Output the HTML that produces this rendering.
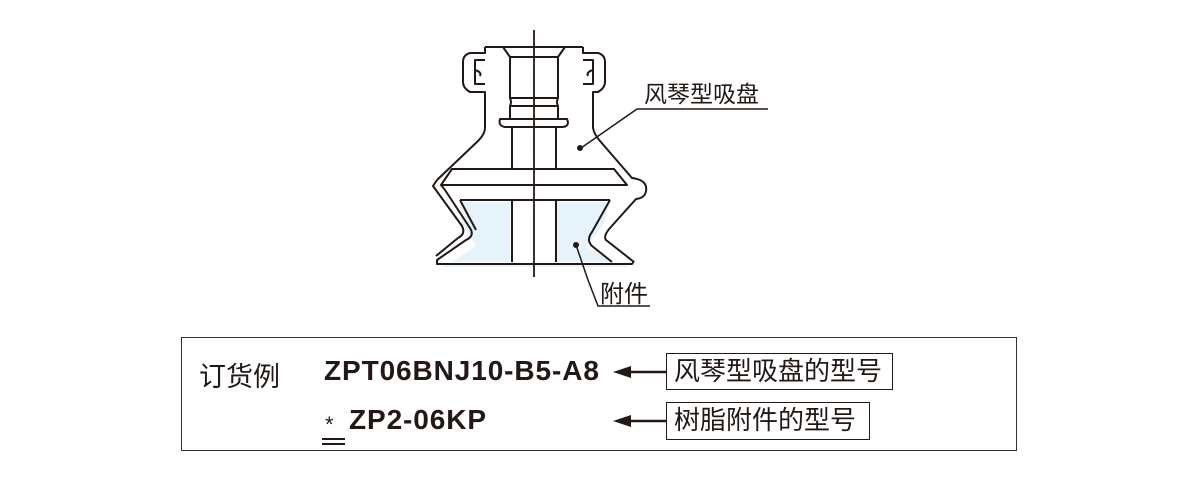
<!DOCTYPE html>
<html><head><meta charset="utf-8"><style>
html,body{margin:0;padding:0;background:#fff;width:1200px;height:500px;overflow:hidden}
.cjk{font-family:"Liberation Sans","Noto Sans CJK SC",sans-serif}
</style></head><body>
<svg width="1200" height="500" viewBox="0 0 1200 500" xmlns="http://www.w3.org/2000/svg" style="position:absolute;left:0;top:0">
<g fill="none" stroke="#231815" stroke-width="2" stroke-linejoin="round">
<path d="M460 202 L510 202 L510 262 L452 262 L476 246 L462 224 Z" fill="#e6f3fb" stroke="none"/>
<path d="M557 202 L610 202 L604 224 L586 246 L612 262 L557 262 Z" fill="#e6f3fb" stroke="none"/>
<path d="M437 263 L632 263 L626 267 L445 267 Z" fill="#e6f3fb" stroke="none"/>
<path d="M485 47 L583 47"/>
<path d="M503 47 L510 57 L558 57 L565 47"/>
<path d="M510 57 L510 98 M558 57 L558 98"/>
<path d="M485 47 L485 53 L470 53 Q463 55 463 62 L463 82 Q463 88 470 92 L485 92 L485 128 Q485 134 478 141 L437 180"/>
<path d="M485 60 L475 60 L475 84 L485 84 M475 70 Q482 72 480 76"/>
<path d="M583 47 L583 53 L598 53 Q605 55 605 62 L605 82 Q605 88 598 92 L593 92 L593 128 Q594 134 600 141 L632 178 Q648 180 646 191 Q645 198 636 199 L610 228 Q603 236 606 240 L634 262"/>
<path d="M583 60 L593 60 L593 84 L583 84 M593 70 Q586 72 588 76"/>
<path d="M510 98 Q512 102 510 106 L558 106 Q556 102 558 98 Z"/>
<path d="M510 106 L510 118 M558 106 L558 118"/>
<path d="M500 119 L567 119 Q570 126 563 127 L505 127 Q498 126 500 119 Z"/>
<path d="M512 127 L512 169 M556 127 L556 169"/>
<path d="M452 169 L614 169 L627 185 L441 185 Z"/>
<path d="M441 185 L445 190 L470 228 Q475 236 466 240 L437 260 L437 264 L632 264 L634 261"/>
<path d="M437 180 L433 186 L462 226 Q466 234 458 238 L436 256"/>
<path d="M460 200 L610 200 M460 200 L476 230 M610 200 L592 232 Q586 240 592 246 L612 262"/>
<path d="M512 200 L512 262 M556 200 L556 262"/>
<path d="M534 30 L534 277" stroke-width="1.8"/>
<path d="M768 109 L637 109 L581 148" stroke-width="1.5"/>
<path d="M650 306 L598 306 L588 280 L576 245" stroke-width="1.5"/>
</g>
<circle cx="580" cy="148" r="3" fill="#231815"/>
<circle cx="576" cy="245" r="3" fill="#231815"/>
<text x="644" y="102" class="cjk" font-size="23" fill="#231815">风琴型吸盘</text>
<text x="600" y="302" class="cjk" font-size="24" fill="#231815">附件</text>
</svg>
<div style="position:absolute;left:181px;top:337px;width:834px;height:112px;border:1.5px solid #333;"></div>
<div class="cjk" style="position:absolute;left:199px;top:355px;font-size:27px;color:#231815">订货例</div>
<div style="position:absolute;left:324px;top:355px;font:bold 28px 'Liberation Sans',sans-serif;color:#231815;letter-spacing:0.9px">ZPT06BNJ10-B5-A8</div>
<div style="position:absolute;left:325px;top:412px;font:22px 'Liberation Sans',sans-serif;color:#231815">*</div>
<div style="position:absolute;left:322px;top:438px;width:23px;height:1.5px;background:#231815"></div>
<div style="position:absolute;left:322px;top:443px;width:23px;height:1.5px;background:#231815"></div>
<div style="position:absolute;left:349px;top:404px;font:bold 28px 'Liberation Sans',sans-serif;color:#231815;letter-spacing:0.9px">ZP2-06KP</div>
<svg width="1200" height="500" style="position:absolute;left:0;top:0">
<path d="M628 372 L666 372 M628 421 L666 421" stroke="#231815" stroke-width="2.5"/>
<path d="M613 372 L631 366 L631 378 Z M613 421 L631 415 L631 427 Z" fill="#231815"/>
</svg>
<div class="cjk" style="position:absolute;left:666px;top:353px;width:227px;height:37px;border:1.5px solid #231815;box-sizing:border-box;font-size:26px;line-height:34px;padding-left:7px;color:#231815;white-space:nowrap">风琴型吸盘的型号</div>
<div class="cjk" style="position:absolute;left:666px;top:402px;width:204px;height:38px;border:1.5px solid #231815;box-sizing:border-box;font-size:26px;line-height:35px;padding-left:7px;color:#231815;white-space:nowrap">树脂附件的型号</div>
</body></html>
